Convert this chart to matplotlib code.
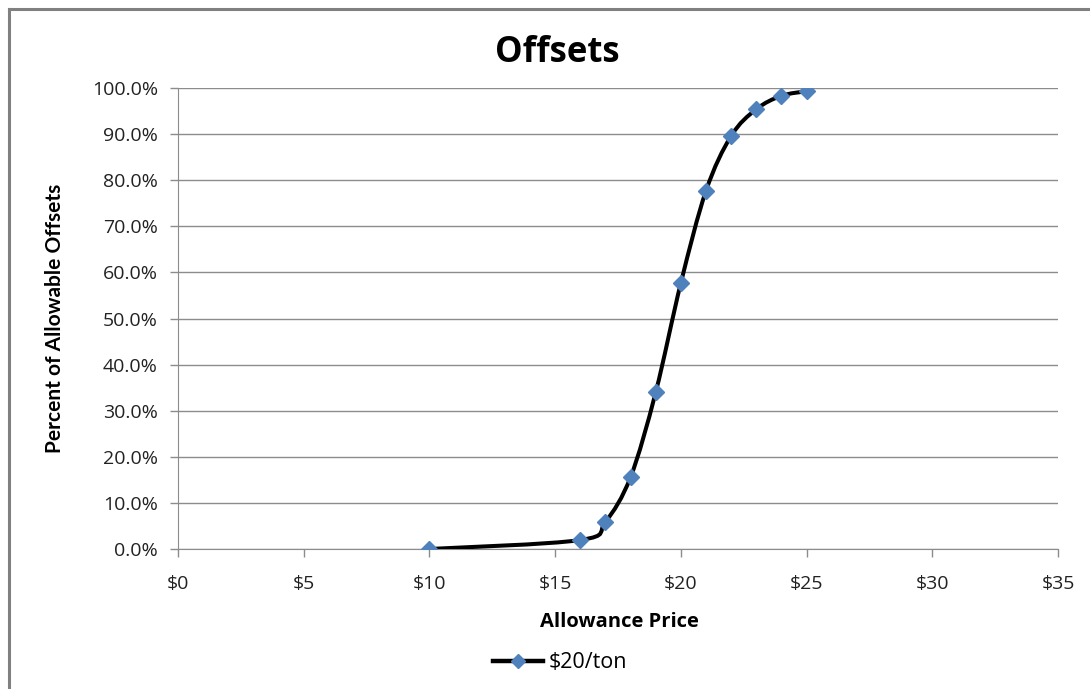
import matplotlib
matplotlib.use("Agg")
import matplotlib.pyplot as plt
from matplotlib.path import Path
from matplotlib.patches import PathPatch
from matplotlib.lines import Line2D
from matplotlib.ticker import FuncFormatter, MultipleLocator

# data
price = [10, 16, 17, 18, 19, 20, 21, 22, 23, 24, 25]
pct = [0.0, 1.95, 5.9, 15.6, 34.0, 57.7, 77.7, 89.6, 95.4, 98.3, 99.3]
series_name = "$20/ton"

plt.rcParams['font.family'] = ['Open Sans', 'DejaVu Sans']

W, H = 1090, 689
fig = plt.figure(figsize=(W / 100, H / 100), dpi=100)
ax = fig.add_axes([178 / W, 140 / H, 880 / W, 461 / H])

# smoothed line like Excel (Catmull-Rom as Bezier segments)
verts = [(price[0], pct[0])]
codes = [Path.MOVETO]
n = len(price)
for i in range(n - 1):
    p0 = (price[max(i - 1, 0)], pct[max(i - 1, 0)])
    p1 = (price[i], pct[i])
    p2 = (price[i + 1], pct[i + 1])
    p3 = (price[min(i + 2, n - 1)], pct[min(i + 2, n - 1)])
    c1 = (p1[0] + (p2[0] - p0[0]) / 6, p1[1] + (p2[1] - p0[1]) / 6)
    c2 = (p2[0] - (p3[0] - p1[0]) / 6, p2[1] - (p3[1] - p1[1]) / 6)
    verts += [c1, c2, p2]
    codes += [Path.CURVE4] * 3
ax.add_patch(PathPatch(Path(verts, codes), facecolor='none', edgecolor='black',
                       lw=2.9, zorder=3, capstyle='round', joinstyle='round'))
ax.plot(price, pct, ls='none', marker='D', ms=8.5, color='#4F81BD', zorder=4)

ax.set_xlim(0, 35)
ax.set_ylim(0, 100)
ax.xaxis.set_major_locator(MultipleLocator(5))
ax.yaxis.set_major_locator(MultipleLocator(10))
ax.xaxis.set_major_formatter(FuncFormatter(lambda v, p: f"${v:.0f}"))
ax.yaxis.set_major_formatter(FuncFormatter(lambda v, p: f"{v:.1f}%"))
ax.grid(axis='y', color='#8C8C8C', lw=1.0)
ax.set_axisbelow(True)
for s in ['top', 'right']:
    ax.spines[s].set_visible(False)
for s in ['left', 'bottom']:
    ax.spines[s].set_color('#8C8C8C')
ax.tick_params(axis='both', colors='#8C8C8C', labelcolor='#222222', labelsize=14,
               length=5.5, width=1.0)
ax.tick_params(axis='x', pad=13)
ax.tick_params(axis='y', pad=9)

fig.text(557 / W, 1 - 62 / H, "Offsets", ha='center', va='baseline',
         fontsize=25, fontweight='bold')
fig.text(619 / W, 1 - 627 / H, "Allowance Price", ha='center', va='baseline',
         fontsize=14.5, fontweight='bold')
fig.text(55 / W, 1 - 318 / H, "Percent of Allowable Offsets", ha='center', va='center',
         rotation=90, fontsize=15, fontweight='bold', family=['Lato', 'DejaVu Sans'])

h = Line2D([], [], color='black', lw=3.2, marker='D', ms=7,
           markerfacecolor='#4F81BD', markeredgecolor='#4F81BD')
fig.legend([h], [series_name], loc='center', bbox_to_anchor=(560 / W, 1 - 663 / H),
           frameon=False, fontsize=15.5, handlelength=2.3, handletextpad=0.25)

# outer chart border (left and top visible)
fig.add_artist(Line2D([9 / W, 9 / W], [0, 1 - 9 / H], color='#808080', lw=2.2))
fig.add_artist(Line2D([9 / W, 1], [1 - 9 / H, 1 - 9 / H], color='#808080', lw=2.2))

fig.savefig("out.png", dpi=100)
